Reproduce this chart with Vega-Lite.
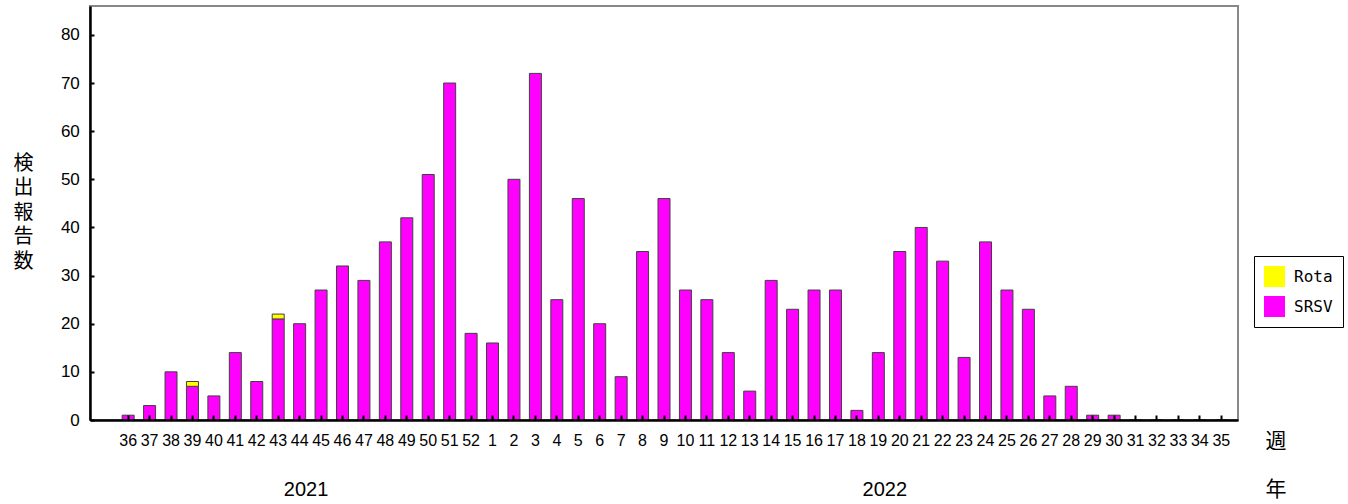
{
  "$schema": "https://vega.github.io/schema/vega-lite/v6.json",
  "width": 1148,
  "height": 414,
  "autosize": "none",
  "padding": {"left": 90, "top": 6, "right": 110, "bottom": 84},
  "background": "white",
  "config": {
    "view": {"stroke": "#888888", "strokeWidth": 2},
    "font": "Liberation Sans"
  },
  "data": {
    "values": [
      {"week": "36", "virus": "SRSV", "count": 1},
      {"week": "37", "virus": "SRSV", "count": 3},
      {"week": "38", "virus": "SRSV", "count": 10},
      {"week": "39", "virus": "SRSV", "count": 7},
      {"week": "39", "virus": "Rota", "count": 1},
      {"week": "40", "virus": "SRSV", "count": 5},
      {"week": "41", "virus": "SRSV", "count": 14},
      {"week": "42", "virus": "SRSV", "count": 8},
      {"week": "43", "virus": "SRSV", "count": 21},
      {"week": "43", "virus": "Rota", "count": 1},
      {"week": "44", "virus": "SRSV", "count": 20},
      {"week": "45", "virus": "SRSV", "count": 27},
      {"week": "46", "virus": "SRSV", "count": 32},
      {"week": "47", "virus": "SRSV", "count": 29},
      {"week": "48", "virus": "SRSV", "count": 37},
      {"week": "49", "virus": "SRSV", "count": 42},
      {"week": "50", "virus": "SRSV", "count": 51},
      {"week": "51", "virus": "SRSV", "count": 70},
      {"week": "52", "virus": "SRSV", "count": 18},
      {"week": "1", "virus": "SRSV", "count": 16},
      {"week": "2", "virus": "SRSV", "count": 50},
      {"week": "3", "virus": "SRSV", "count": 72},
      {"week": "4", "virus": "SRSV", "count": 25},
      {"week": "5", "virus": "SRSV", "count": 46},
      {"week": "6", "virus": "SRSV", "count": 20},
      {"week": "7", "virus": "SRSV", "count": 9},
      {"week": "8", "virus": "SRSV", "count": 35},
      {"week": "9", "virus": "SRSV", "count": 46},
      {"week": "10", "virus": "SRSV", "count": 27},
      {"week": "11", "virus": "SRSV", "count": 25},
      {"week": "12", "virus": "SRSV", "count": 14},
      {"week": "13", "virus": "SRSV", "count": 6},
      {"week": "14", "virus": "SRSV", "count": 29},
      {"week": "15", "virus": "SRSV", "count": 23},
      {"week": "16", "virus": "SRSV", "count": 27},
      {"week": "17", "virus": "SRSV", "count": 27},
      {"week": "18", "virus": "SRSV", "count": 2},
      {"week": "19", "virus": "SRSV", "count": 14},
      {"week": "20", "virus": "SRSV", "count": 35},
      {"week": "21", "virus": "SRSV", "count": 40},
      {"week": "22", "virus": "SRSV", "count": 33},
      {"week": "23", "virus": "SRSV", "count": 13},
      {"week": "24", "virus": "SRSV", "count": 37},
      {"week": "25", "virus": "SRSV", "count": 27},
      {"week": "26", "virus": "SRSV", "count": 23},
      {"week": "27", "virus": "SRSV", "count": 5},
      {"week": "28", "virus": "SRSV", "count": 7},
      {"week": "29", "virus": "SRSV", "count": 1},
      {"week": "30", "virus": "SRSV", "count": 1},
      {"week": "31", "virus": "SRSV", "count": 0},
      {"week": "32", "virus": "SRSV", "count": 0},
      {"week": "33", "virus": "SRSV", "count": 0},
      {"week": "34", "virus": "SRSV", "count": 0},
      {"week": "35", "virus": "SRSV", "count": 0}
    ]
  },
  "layer": [
    {
      "mark": {"type": "bar", "stroke": "#404040", "strokeWidth": 1},
      "encoding": {
        "x": {
          "field": "week",
          "type": "nominal",
          "sort": null,
          "scale": {
            "type": "band",
            "domain": ["36","37","38","39","40","41","42","43","44","45","46","47","48","49","50","51","52","1","2","3","4","5","6","7","8","9","10","11","12","13","14","15","16","17","18","19","20","21","22","23","24","25","26","27","28","29","30","31","32","33","34","35"],
            "paddingInner": 0.44,
            "paddingOuter": 1.0,
            "align": 0.75
          },
          "axis": {
            "orient": "bottom",
            "labelAngle": 0,
            "labelFontSize": 16,
            "labelColor": "#000000",
            "labelPadding": 17,
            "tickSize": -5,
            "tickWidth": 2,
            "tickColor": "#000000",
            "domainColor": "#000000",
            "domainWidth": 2.5,
            "zindex": 1,
            "grid": false,
            "title": ["週", "年"],
            "titleFont": "Noto Sans CJK JP",
            "titleFontSize": 21,
            "titleFontWeight": "normal",
            "titleColor": "#000000",
            "titleAngle": 0,
            "titleAlign": "center",
            "titleBaseline": "middle",
            "titleLineHeight": 48,
            "titleX": 1185.5,
            "titleY": 21
          }
        },
        "y": {
          "field": "count",
          "type": "quantitative",
          "stack": "zero",
          "scale": {"domain": [0, 86], "nice": false},
          "axis": {
            "values": [0, 10, 20, 30, 40, 50, 60, 70, 80],
            "grid": false,
            "labelFontSize": 17,
            "labelColor": "#000000",
            "labelPadding": 14.7,
            "tickSize": -4,
            "tickWidth": 2,
            "tickColor": "#000000",
            "domainColor": "#000000",
            "domainWidth": 2.5,
            "zindex": 1,
            "title": ["検", "出", "報", "告", "数"],
            "titleFont": "Noto Sans CJK JP",
            "titleFontSize": 20,
            "titleFontWeight": "normal",
            "titleColor": "#000000",
            "titleAngle": 0,
            "titleAlign": "center",
            "titleBaseline": "middle",
            "titleLineHeight": 24.5,
            "titleX": -67,
            "titleY": 157
          }
        },
        "color": {
          "field": "virus",
          "type": "nominal",
          "scale": {"domain": ["Rota", "SRSV"], "range": ["#FFFF00", "#FF00FF"]},
          "legend": {
            "orient": "none",
            "legendX": 1164,
            "legendY": 250,
            "title": null,
            "symbolType": "square",
            "symbolSize": 441,
            "symbolStrokeWidth": 0,
            "labelFont": "DejaVu Sans Mono",
            "labelFontSize": 16,
            "labelColor": "#000000",
            "labelOffset": 9,
            "rowPadding": 9,
            "padding": 10,
            "strokeColor": "#000000",
            "fillColor": "white"
          }
        },
        "order": {"field": "virus", "sort": "descending"}
      }
    },
    {
      "data": {"values": [{"week": "44", "year": "2021"}, {"week": "19", "year": "2022"}]},
      "mark": {"type": "point", "opacity": 0},
      "encoding": {
        "x": {
          "field": "week",
          "type": "nominal",
          "sort": null,
          "axis": {
            "orient": "bottom",
            "values": ["44", "19"],
            "labelExpr": "datum.value == '44' ? '2021' : '2022'",
            "ticks": false,
            "domain": false,
            "grid": false,
            "title": null,
            "labelAngle": 0,
            "labelFontSize": 20,
            "labelColor": "#000000",
            "labelPadding": 69,
            "labelBaseline": "middle",
            "labelOffset": 6.5
          }
        }
      }
    }
  ],
  "resolve": {"axis": {"x": "independent"}}
}
